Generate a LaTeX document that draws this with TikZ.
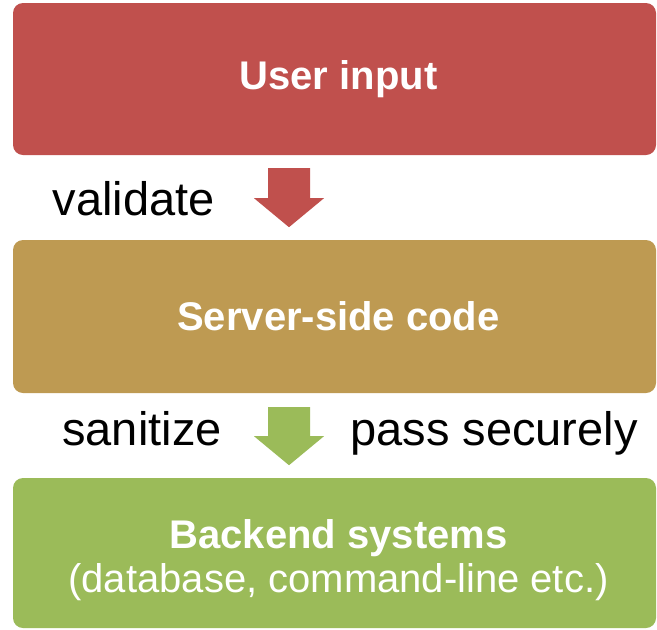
\documentclass[tikz,border=0pt]{standalone}
\usepackage{fontspec}
\setmainfont{Liberation Sans}
\usetikzlibrary{calc}
\definecolor{inred}{HTML}{C0504D}
\definecolor{intan}{HTML}{BE9A52}
\definecolor{ingreen}{HTML}{9BBB59}
\begin{document}
\begin{tikzpicture}[x=1pt,y=-1pt,
  layer/.style={rectangle, rounded corners=10pt, draw=none, minimum width=643pt,
    inner sep=0pt},
  headtext/.style={inner sep=0pt, text=white, align=center,
    font=\fontsize{40}{46}\selectfont\bfseries},
  subtext/.style={inner sep=0pt, text=white, anchor=base,
    font=\fontsize{40}{46}\selectfont},
  label/.style={inner sep=0pt, anchor=base, font=\fontsize{47}{52}\selectfont}]
\useasboundingbox (0,0) rectangle (657,630);

% the three layers
\node[layer, fill=inred, minimum height=152pt] (user) at (334.5,79) {};
\node[layer, fill=intan, minimum height=153pt] (server) at (334.5,316.5) {};
\node[layer, fill=ingreen, minimum height=150pt] (backend) at (334.5,553) {};

% layer captions
\node[headtext] (usertext) at ($(user.center)+(4,0)$) {User input};
\node[headtext] (servertext) at ($(server.center)+(4,0)$) {Server-side code};
\node[headtext, anchor=base] (backendtext) at ($(backend.center)+(4,-5)$) {Backend systems};
\node[subtext] (backendsub) at ($(backend.center)+(4,39)$) {(database, command-line etc.)};

% block arrows between the layers
\coordinate (a1) at ($(user.south)+(-66.5,13)$);
\fill[inred] (a1) -- ++(42,0) -- ++(0,30) -- ++(14,0) -- ++(-35,29) -- ++(-35,-29) -- ++(14,0) -- cycle;
\coordinate (a2) at ($(server.south)+(-66.5,14)$);
\fill[ingreen] (a2) -- ++(42,0) -- ++(0,29) -- ++(14,0) -- ++(-35,29) -- ++(-35,-29) -- ++(14,0) -- cycle;

% arrow labels
\node[label] (validate) at (133.5,215) {validate};
\node[label] (sanitize) at (142,445) {sanitize};
\node[label] (pass) at (494,445) {pass securely};
\end{tikzpicture}
\end{document}
